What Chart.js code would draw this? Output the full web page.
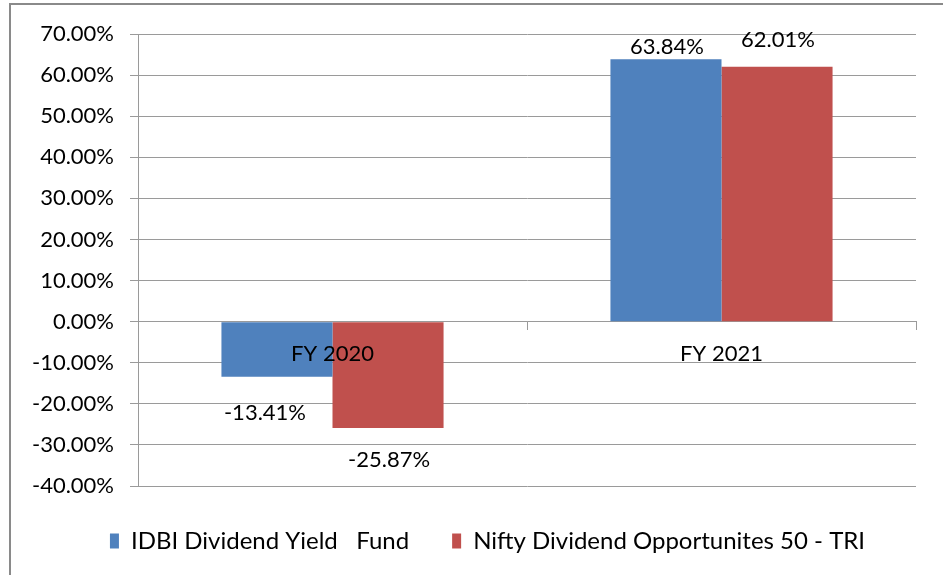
<!DOCTYPE html>
<html>
<head>
<meta charset="utf-8">
<script src="https://cdn.jsdelivr.net/npm/chart.js@4/dist/chart.umd.min.js"></script>
<style>
  html, body { margin: 0; padding: 0; background: #fff; overflow: hidden; }
  #frame { position: absolute; left: 9px; top: 3px; width: 1000px; height: 1000px; border: 2px solid #8a8a8a; }
  #wrap { position: absolute; left: 0; top: 0; width: 943px; height: 575px; }
</style>
</head>
<body>
<div id="frame"></div>
<div id="wrap"><canvas id="chart"></canvas></div>
<script>
const categories = ['FY 2020', 'FY 2021'];
const fundValues = [-13.41, 63.84];
const benchmarkValues = [-25.87, 62.01];
const yTicks = { min: -40, max: 70, step: 10 };

const FONT = 'Lato';
const gridColor = '#9a9a9a';

// value labels above / below each bar, like the excel data labels
const valueLabels = {
    id: 'valueLabels',
    afterDatasetsDraw(chart, args, opts) {
        const ctx = chart.ctx;
        ctx.save();
        ctx.font = '22px ' + FONT;
        ctx.fillStyle = '#000';
        ctx.textAlign = 'center';
        ctx.textBaseline = 'middle';
        chart.data.datasets.forEach((ds, i) => {
            chart.getDatasetMeta(i).data.forEach((bar, j) => {
                const v = ds.data[j];
                const n = opts.nudge[i][j];
                const y = v >= 0 ? bar.y - 12 : bar.y + 34;
                ctx.fillText(v.toFixed(2) + '%', bar.x + n[0], y + n[1]);
            });
        });
        ctx.restore();
    }
};

// legend sits a bit right of the canvas centre, as in the original
const legendShift = {
    id: 'legendShift',
    afterLayout(chart) {
        if (chart.legend) chart.legend.left += 59;
    }
};

const data = {
    labels: categories,
    datasets: [{
        label: 'IDBI Dividend Yield   Fund',
        data: fundValues,
        backgroundColor: '#4F81BD',
        borderWidth: 0
    }, {
        label: 'Nifty Dividend Opportunites 50 - TRI',
        data: benchmarkValues,
        backgroundColor: '#C0504D',
        borderWidth: 0
    }]
};

const config = {
    type: 'bar',
    data: data,
    options: {
        responsive: true,
        maintainAspectRatio: false,
        animation: false,
        layout: { padding: { left: 0, right: 27, top: 34, bottom: 12 } },
        datasets: {
            bar: { barPercentage: 1, categoryPercentage: 0.571 }
        },
        scales: {
            x: {
                position: { y: 0 },
                grid: { drawOnChartArea: false, drawTicks: true, tickLength: 8, color: gridColor },
                border: { color: gridColor },
                ticks: { z: 1, color: '#000', font: { family: FONT, size: 22 }, padding: 11 }
            },
            y: {
                min: yTicks.min,
                max: yTicks.max,
                afterFit: (scale) => { scale.width = 138; },
                grid: { color: gridColor, tickLength: 8 },
                border: { color: gridColor },
                ticks: {
                    stepSize: yTicks.step,
                    color: '#000',
                    padding: 16,
                    font: { family: FONT, size: 22 },
                    callback: (v) => v.toFixed(2) + '%'
                }
            }
        },
        plugins: {
            legend: {
                position: 'bottom',
                labels: {
                    color: '#000',
                    font: { family: FONT, size: 24 },
                    boxWidth: 9,
                    boxHeight: 15,
                    padding: 43
                }
            },
            tooltip: { enabled: false },
            valueLabels: {
                nudge: [[[-12, 2], [1, 0]], [[1, -2], [1, -15]]]
            }
        }
    },
    plugins: [valueLabels, legendShift]
};

const chart = new Chart(document.getElementById('chart').getContext('2d'), config);
</script>
</body>
</html>
